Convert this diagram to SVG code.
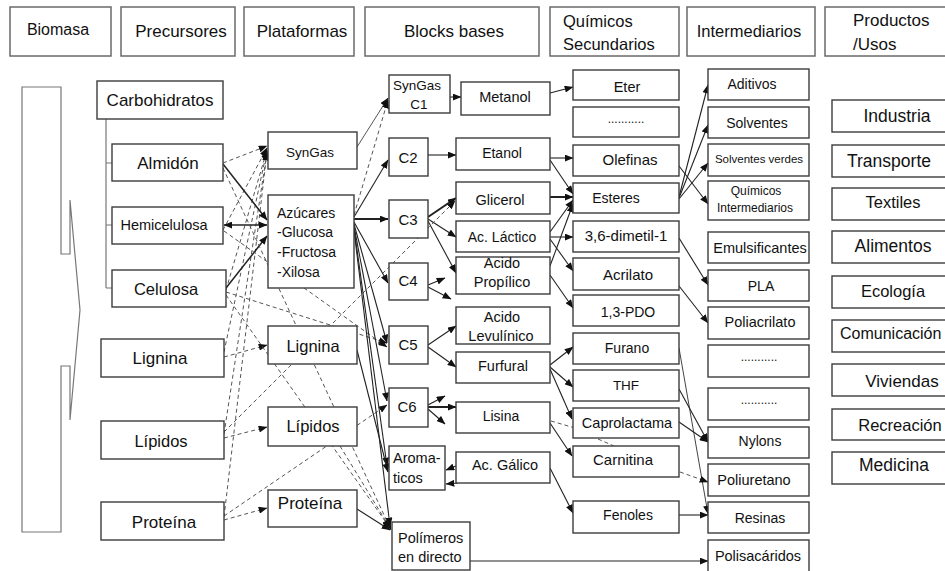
<svg xmlns="http://www.w3.org/2000/svg" width="945" height="571" viewBox="0 0 945 571">
<defs>
<marker id="ah" viewBox="0 0 10 8" refX="9.5" refY="4" markerWidth="9" markerHeight="7" markerUnits="userSpaceOnUse" orient="auto">
<path d="M0,0 L10,4 L0,8 z" fill="#111"/>
</marker>
<marker id="ahs" viewBox="0 0 10 8" refX="9.5" refY="4" markerWidth="9" markerHeight="7" markerUnits="userSpaceOnUse" orient="auto-start-reverse">
<path d="M0,0 L10,4 L0,8 z" fill="#111"/>
</marker>
<style>
.hdr{fill:#fff;stroke:#6a6a6a;stroke-width:1.5}
.box{fill:#fff;stroke:#3c3c3c;stroke-width:1.4}
.t{font-family:"Liberation Sans",Arial,sans-serif;fill:#111;text-anchor:middle}
.l{text-anchor:start}
.s{stroke:#222;stroke-width:1.1;fill:none;marker-end:url(#ah)}
.sb{stroke:#222;stroke-width:2;fill:none;marker-end:url(#ah)}
.d{stroke:#555;stroke-width:1;stroke-dasharray:4 3;fill:none;marker-end:url(#ah)}
.tree{stroke:#777;stroke-width:1.2;fill:none}
</style>
</defs>
<rect width="945" height="571" fill="#fff"/>

<!-- column headings -->
<g id="headers">
<g id="h-biomasa"><rect class="hdr" x="10" y="7" width="101" height="49"/><text class="t" x="58" y="35" font-size="16">Biomasa</text></g>
<g id="h-precursores"><rect class="hdr" x="121" y="7" width="114" height="49"/><text class="t" x="181" y="37" font-size="17">Precursores</text></g>
<g id="h-plataformas"><rect class="hdr" x="244" y="7" width="110" height="49"/><text class="t" x="302" y="37" font-size="17">Plataformas</text></g>
<g id="h-blocks"><rect class="hdr" x="365" y="7" width="174" height="49"/><text class="t" x="454" y="37" font-size="17">Blocks bases</text></g>
<g id="h-quimicos"><rect class="hdr" x="550" y="7" width="129" height="49"/><text class="t l" x="563" y="27" font-size="16.5">Químicos</text><text class="t l" x="563" y="50" font-size="16.5">Secundarios</text></g>
<g id="h-intermediarios"><rect class="hdr" x="687" y="7" width="128" height="49"/><text class="t" x="749" y="37" font-size="16.5">Intermediarios</text></g>
<g id="h-productos"><rect class="hdr" x="825" y="7" width="130" height="49"/><text class="t l" x="853" y="26" font-size="17">Productos</text><text class="t l" x="853" y="50" font-size="17">/Usos</text></g>
</g>

<!-- biomass input arrow -->
<g id="biomasa">
<path class="tree" d="M22,87 H61 V254 H70 V200 L80,310 L70,420 V366 H61 V532 H22 Z"/>
</g>

<!-- carbohydrate tree lines -->
<g id="tree">
<path class="tree" d="M106,119 V288 M106,163 H112 M106,225 H112 M106,288 H112"/>
</g>

<g id="connectors">
<!-- precursores to plataformas -->
<line class="d" x1="223" y1="163" x2="267" y2="146"/>
<line class="d" x1="223" y1="230" x2="267" y2="148"/>
<line class="d" x1="226" y1="290" x2="267" y2="150"/>
<line class="d" x1="224" y1="352" x2="267" y2="150"/>
<line class="d" x1="224" y1="434" x2="267" y2="152"/>
<line class="d" x1="224" y1="517" x2="267" y2="152"/>
<line class="s" x1="223" y1="164" x2="267" y2="220" style="stroke-width:1.5"/>
<line class="s" x1="224" y1="225" x2="267" y2="225" style="stroke-width:1.3;marker-start:url(#ahs);marker-end:url(#ahs)"/>
<line class="s" x1="226" y1="288" x2="267" y2="236" style="stroke-width:1.5"/>
<line class="d" x1="224" y1="357" x2="267" y2="345"/>
<line class="d" x1="224" y1="438" x2="267" y2="427"/>
<line class="d" x1="224" y1="520" x2="267" y2="508"/>
<line class="d" x1="226" y1="292" x2="387" y2="343"/>
<line class="d" x1="224" y1="231" x2="387" y2="347"/>
<line class="d" x1="226" y1="295" x2="390" y2="528"/>
<line class="d" x1="223" y1="168" x2="391" y2="530"/>
<line class="d" x1="224" y1="432" x2="455" y2="201"/>
<line class="d" x1="224" y1="516" x2="387" y2="405"/>

<!-- plataformas to blocks -->
<line class="s" x1="357" y1="147" x2="388" y2="98" style="stroke:#555;stroke-width:1"/>
<line class="d" x1="354" y1="215" x2="388" y2="100"/>
<line class="s" x1="354" y1="217" x2="388" y2="160"/>
<line class="sb" x1="354" y1="219" x2="388" y2="219"/>
<line class="s" x1="354" y1="222" x2="388" y2="283"/>
<line class="s" x1="354" y1="224" x2="387" y2="343"/>
<line class="s" x1="354" y1="226" x2="387" y2="401"/>
<line class="s" x1="354" y1="228" x2="387" y2="466"/>
<line class="s" x1="354" y1="230" x2="390" y2="526"/>
<line class="s" x1="357" y1="350" x2="388" y2="472"/>
<line class="d" x1="340" y1="446" x2="390" y2="528"/>
<line class="s" x1="357" y1="509" x2="390" y2="530"/>

<!-- blocks -->
<line class="s" x1="450" y1="97" x2="461" y2="97"/>
<line class="s" x1="428" y1="155" x2="456" y2="155"/>
<line class="sb" x1="428" y1="217" x2="456" y2="198"/>
<line class="s" x1="428" y1="219" x2="456" y2="237"/>
<line class="s" x1="428" y1="221" x2="456" y2="273"/>
<line class="s" x1="428" y1="285" x2="445" y2="278"/>
<line class="s" x1="428" y1="287" x2="451" y2="299"/>
<line class="s" x1="428" y1="345" x2="456" y2="326"/>
<line class="s" x1="428" y1="347" x2="456" y2="367"/>
<line class="s" x1="428" y1="405" x2="445" y2="396"/>
<line class="sb" x1="428" y1="407" x2="456" y2="407"/>
<line class="s" x1="428" y1="409" x2="445" y2="424"/>
<line class="s" x1="456" y1="466" x2="446" y2="470"/>
<line class="s" x1="458" y1="483" x2="446" y2="484"/>

<!-- blocks to quimicos secundarios -->
<line class="s" x1="550" y1="93" x2="573" y2="87"/>
<line class="s" x1="550" y1="158" x2="573" y2="158"/>
<line class="s" x1="550" y1="160" x2="573" y2="194"/>
<line class="sb" x1="550" y1="197" x2="573" y2="197"/>
<line class="s" x1="550" y1="232" x2="573" y2="200"/>
<line class="s" x1="550" y1="237" x2="573" y2="237"/>
<line class="s" x1="550" y1="239" x2="573" y2="271"/>
<line class="s" x1="550" y1="266" x2="573" y2="204"/>
<line class="s" x1="550" y1="275" x2="573" y2="308"/>
<line class="s" x1="550" y1="365" x2="573" y2="347"/>
<line class="s" x1="550" y1="367" x2="573" y2="387"/>
<line class="s" x1="550" y1="369" x2="572" y2="419"/>
<line class="d" x1="551" y1="421" x2="575" y2="428" style="marker-end:none"/>
<line class="d" x1="598" y1="439" x2="614" y2="446" style="marker-end:none"/>
<line class="s" x1="550" y1="423" x2="572" y2="456"/>
<line class="s" x1="550" y1="468" x2="573" y2="513"/>
<line class="s" x1="470" y1="561" x2="708" y2="561"/>

<!-- quimicos secundarios to intermediarios -->
<line class="s" x1="679" y1="197" x2="708" y2="85"/>
<line class="s" x1="679" y1="198" x2="708" y2="125"/>
<line class="s" x1="679" y1="199" x2="708" y2="163"/>
<line class="s" x1="679" y1="166" x2="708" y2="204"/>
<line class="s" x1="679" y1="238" x2="708" y2="285"/>
<line class="s" x1="679" y1="286" x2="708" y2="323"/>
<line class="s" x1="679" y1="348" x2="708" y2="514" style="stroke:#444;stroke-width:1"/>
<line class="s" x1="679" y1="389" x2="708" y2="442"/>
<line class="s" x1="679" y1="422" x2="708" y2="442"/>
<line class="d" x1="680" y1="472" x2="708" y2="482"/>
<line class="s" x1="679" y1="515" x2="708" y2="515"/>
</g>

<!-- precursores -->
<g id="carbohidratos"><rect class="box" x="97" y="81" width="126" height="38"/><text class="t" x="160" y="106" font-size="17">Carbohidratos</text></g>
<g id="almidon"><rect class="box" x="112" y="144" width="111" height="37"/><text class="t" x="168" y="169" font-size="17">Almidón</text></g>
<g id="hemicelulosa"><rect class="box" x="112" y="207" width="111" height="37"/><text class="t" x="164" y="230" font-size="14.5">Hemicelulosa</text></g>
<g id="celulosa"><rect class="box" x="112" y="270" width="114" height="37"/><text class="t" x="166" y="295" font-size="16.5">Celulosa</text></g>
<g id="lignina"><rect class="box" x="101" y="339" width="123" height="38"/><text class="t" x="160" y="364" font-size="17">Lignina</text></g>
<g id="lipidos"><rect class="box" x="101" y="421" width="123" height="38"/><text class="t" x="161" y="447" font-size="16.5">Lípidos</text></g>
<g id="proteina"><rect class="box" x="101" y="502" width="123" height="38"/><text class="t" x="164" y="528" font-size="17">Proteína</text></g>

<!-- plataformas -->
<g id="p-syngas"><rect class="box" x="268" y="132" width="89" height="37"/><text class="t" x="310" y="157" font-size="13.5">SynGas</text></g>
<g id="p-azucares"><rect class="box" x="268" y="195" width="86" height="93"/>
<text class="t l" x="277" y="218" font-size="14">Azúcares</text>
<text class="t l" x="277" y="237" font-size="14">-Glucosa</text>
<text class="t l" x="277" y="257" font-size="14">-Fructosa</text>
<text class="t l" x="277" y="277" font-size="14">-Xilosa</text></g>
<g id="p-lignina"><rect class="box" x="268" y="326" width="89" height="38"/><text class="t" x="313" y="352" font-size="16.5">Lignina</text></g>
<g id="p-lipidos"><rect class="box" x="268" y="407" width="89" height="39"/><text class="t" x="313" y="432" font-size="16.5">Lípidos</text></g>
<g id="p-proteina"><rect class="box" x="268" y="490" width="89" height="37"/><text class="t" x="310" y="509" font-size="17">Proteína</text></g>

<!-- blocks bases -->
<g id="b-c1"><rect class="box" x="389" y="75" width="61" height="38"/><text class="t" x="417" y="90" font-size="13.5">SynGas</text><text class="t" x="419" y="109" font-size="13.5">C1</text></g>
<g id="b-metanol"><rect class="box" x="461" y="82" width="89" height="33"/><text class="t" x="505" y="102" font-size="14.5">Metanol</text></g>
<g id="b-c2"><rect class="box" x="389" y="138" width="39" height="38"/><text class="t" x="408" y="163" font-size="15">C2</text></g>
<g id="b-etanol"><rect class="box" x="456" y="138" width="94" height="32"/><text class="t" x="502" y="158" font-size="14">Etanol</text></g>
<g id="b-c3"><rect class="box" x="389" y="200" width="39" height="38"/><text class="t" x="408" y="225" font-size="15">C3</text></g>
<g id="b-glicerol"><rect class="box" x="456" y="182" width="94" height="32"/><text class="t" x="500" y="205" font-size="14.5">Glicerol</text></g>
<g id="b-lactico"><rect class="box" x="456" y="221" width="94" height="31"/><text class="t" x="502" y="242" font-size="14">Ac. Láctico</text></g>
<g id="b-c4"><rect class="box" x="389" y="263" width="39" height="37"/><text class="t" x="408" y="286" font-size="15">C4</text></g>
<g id="b-propilico"><rect class="box" x="456" y="257" width="94" height="37"/><text class="t" x="502" y="268" font-size="14.5">Acido</text><text class="t" x="502" y="287" font-size="14.5">Propílico</text></g>
<g id="b-levulinico"><rect class="box" x="456" y="307" width="94" height="37"/><text class="t" x="502" y="322" font-size="14.5">Acido</text><text class="t" x="501" y="341" font-size="14.5">Levulínico</text></g>
<g id="b-c5"><rect class="box" x="389" y="326" width="39" height="38"/><text class="t" x="408" y="350" font-size="15">C5</text></g>
<g id="b-furfural"><rect class="box" x="456" y="352" width="94" height="31"/><text class="t" x="503" y="371" font-size="14.5">Furfural</text></g>
<g id="b-c6"><rect class="box" x="389" y="388" width="39" height="39"/><text class="t" x="407" y="412" font-size="15">C6</text></g>
<g id="b-lisina"><rect class="box" x="456" y="402" width="94" height="31"/><text class="t" x="501" y="421" font-size="14">Lisina</text></g>
<g id="b-aromaticos"><rect class="box" x="389" y="446" width="56" height="44"/><text class="t l" x="393" y="463" font-size="14.5">Aroma-</text><text class="t l" x="393" y="483" font-size="14.5">ticos</text></g>
<g id="b-galico"><rect class="box" x="456" y="452" width="94" height="31"/><text class="t" x="505" y="470" font-size="14.5">Ac. Gálico</text></g>
<g id="b-polimeros"><rect class="box" x="392" y="522" width="78" height="48"/><text class="t l" x="398" y="543" font-size="14.5">Polímeros</text><text class="t l" x="398" y="562" font-size="14.5">en directo</text></g>

<!-- quimicos secundarios -->
<g id="q-eter"><rect class="box" x="573" y="70" width="106" height="30"/><text class="t" x="627" y="92" font-size="14.5">Eter</text></g>
<g id="q-otros"><rect class="box" x="573" y="107" width="106" height="30"/><text class="t" x="626" y="123" font-size="12">...........</text></g>
<g id="q-olefinas"><rect class="box" x="573" y="145" width="106" height="31"/><text class="t" x="630" y="165" font-size="15">Olefinas</text></g>
<g id="q-esteres"><rect class="box" x="573" y="183" width="106" height="30"/><text class="t" x="616" y="203" font-size="14">Esteres</text></g>
<g id="q-dimetil"><rect class="box" x="573" y="221" width="106" height="31"/><text class="t" x="626" y="241" font-size="15">3,6-dimetil-1</text></g>
<g id="q-acrilato"><rect class="box" x="573" y="258" width="106" height="32"/><text class="t" x="628" y="280" font-size="15">Acrilato</text></g>
<g id="q-pdo"><rect class="box" x="573" y="295" width="106" height="31"/><text class="t" x="628" y="317" font-size="14">1,3-PDO</text></g>
<g id="q-furano"><rect class="box" x="573" y="333" width="106" height="31"/><text class="t" x="627" y="353" font-size="14">Furano</text></g>
<g id="q-thf"><rect class="box" x="573" y="370" width="106" height="31"/><text class="t" x="626" y="390" font-size="13.5">THF</text></g>
<g id="q-caprolactama"><rect class="box" x="573" y="408" width="106" height="30"/><text class="t" x="627" y="428" font-size="14.5">Caprolactama</text></g>
<g id="q-carnitina"><rect class="box" x="573" y="446" width="106" height="31"/><text class="t" x="623" y="465" font-size="15">Carnitina</text></g>
<g id="q-fenoles"><rect class="box" x="573" y="501" width="106" height="32"/><text class="t" x="628" y="520" font-size="14">Fenoles</text></g>

<!-- intermediarios -->
<g id="i-aditivos"><rect class="box" x="708" y="69" width="101" height="31"/><text class="t" x="752" y="89" font-size="14">Aditivos</text></g>
<g id="i-solventes"><rect class="box" x="708" y="107" width="101" height="31"/><text class="t" x="757" y="128" font-size="14">Solventes</text></g>
<g id="i-solventes-verdes"><rect class="box" x="708" y="144" width="101" height="32"/><text class="t" x="759" y="163" font-size="11.5">Solventes verdes</text></g>
<g id="i-quimicos"><rect class="box" x="708" y="181" width="101" height="39"/><text class="t" x="756" y="195" font-size="12">Químicos</text><text class="t" x="755" y="212" font-size="12">Intermediarios</text></g>
<g id="i-emulsificantes"><rect class="box" x="708" y="232" width="101" height="31"/><text class="t" x="760" y="253" font-size="14.5">Emulsificantes</text></g>
<g id="i-pla"><rect class="box" x="708" y="270" width="101" height="31"/><text class="t" x="761" y="291" font-size="14">PLA</text></g>
<g id="i-poliacrilato"><rect class="box" x="708" y="307" width="101" height="32"/><text class="t" x="760" y="327" font-size="14.5">Poliacrilato</text></g>
<g id="i-otros1"><rect class="box" x="708" y="345" width="101" height="32"/><text class="t" x="759" y="361" font-size="12">...........</text></g>
<g id="i-otros2"><rect class="box" x="708" y="388" width="101" height="32"/><text class="t" x="759" y="404" font-size="12">...........</text></g>
<g id="i-nylons"><rect class="box" x="708" y="427" width="101" height="31"/><text class="t" x="760" y="446" font-size="14">Nylons</text></g>
<g id="i-poliuretano"><rect class="box" x="708" y="464" width="101" height="32"/><text class="t" x="754" y="485" font-size="14.5">Poliuretano</text></g>
<g id="i-resinas"><rect class="box" x="708" y="502" width="101" height="31"/><text class="t" x="760" y="523" font-size="14">Resinas</text></g>
<g id="i-polisacaridos"><rect class="box" x="708" y="540" width="101" height="32"/><text class="t" x="758" y="561" font-size="14.5">Polisacáridos</text></g>

<!-- productos / usos -->
<g id="u-industria"><rect class="box" x="832" y="100" width="125" height="32"/><text class="t" x="897" y="122" font-size="17.5">Industria</text></g>
<g id="u-transporte"><rect class="box" x="832" y="145" width="125" height="32"/><text class="t" x="889" y="167" font-size="17.5">Transporte</text></g>
<g id="u-textiles"><rect class="box" x="832" y="188" width="125" height="32"/><text class="t" x="893" y="208" font-size="16.5">Textiles</text></g>
<g id="u-alimentos"><rect class="box" x="832" y="231" width="125" height="32"/><text class="t" x="893" y="252" font-size="17.5">Alimentos</text></g>
<g id="u-ecologia"><rect class="box" x="832" y="276" width="125" height="32"/><text class="t" x="893" y="297" font-size="16.5">Ecología</text></g>
<g id="u-comunicacion"><rect class="box" x="832" y="320" width="125" height="32"/><text class="t l" x="840" y="339" font-size="16">Comunicación</text></g>
<g id="u-viviendas"><rect class="box" x="832" y="364" width="125" height="32"/><text class="t" x="902" y="387" font-size="17">Viviendas</text></g>
<g id="u-recreacion"><rect class="box" x="832" y="409" width="125" height="31"/><text class="t" x="900" y="431" font-size="16.5">Recreación</text></g>
<g id="u-medicina"><rect class="box" x="832" y="452" width="125" height="32"/><text class="t" x="894" y="471" font-size="17.5">Medicina</text></g>
</svg>
